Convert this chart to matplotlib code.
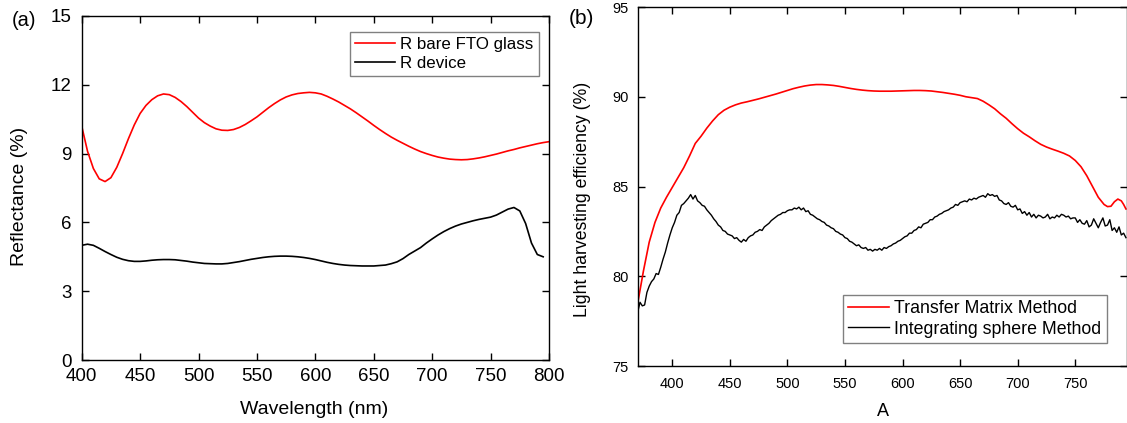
import numpy as np
import matplotlib
matplotlib.use("Agg")
import matplotlib.pyplot as plt

plt.rcParams['font.family'] = ['Liberation Sans', 'DejaVu Sans']

# (a) reflectance, 5 nm steps
wl_a = np.arange(400, 801, 5)
r_fto = [10.2, 9.1, 8.35, 7.9, 7.78, 7.95, 8.4, 9.0, 9.65, 10.25,
         10.75, 11.1, 11.35, 11.52, 11.6, 11.57, 11.45, 11.27, 11.05, 10.8,
         10.55, 10.35, 10.2, 10.08, 10.02, 10.01, 10.05, 10.14, 10.27, 10.43,
         10.6, 10.8, 11.0, 11.18, 11.34, 11.47, 11.56, 11.62, 11.65, 11.67,
         11.65, 11.6, 11.5, 11.38, 11.25, 11.1, 10.95, 10.78, 10.6, 10.42,
         10.23, 10.05, 9.88, 9.72, 9.58, 9.45, 9.32, 9.2, 9.09, 9.0,
         8.92, 8.85, 8.8, 8.76, 8.74, 8.73, 8.74, 8.77, 8.81, 8.86,
         8.92, 8.98, 9.05, 9.12, 9.18, 9.25, 9.31, 9.37, 9.43, 9.48,
         9.52]
wl_dev = np.arange(400, 796, 5)
r_dev = [5.0, 5.05, 5.0, 4.87, 4.73, 4.6, 4.48, 4.39, 4.33, 4.3,
         4.3, 4.32, 4.35, 4.37, 4.38, 4.38, 4.37, 4.34, 4.31, 4.27,
         4.24, 4.21, 4.2, 4.19, 4.19, 4.21, 4.25, 4.29, 4.34, 4.39,
         4.43, 4.47, 4.5, 4.52, 4.53, 4.53, 4.52, 4.5, 4.47, 4.43,
         4.38, 4.32, 4.26, 4.21, 4.17, 4.14, 4.12, 4.11, 4.1, 4.1,
         4.1, 4.12, 4.14, 4.2, 4.28, 4.42, 4.6, 4.75, 4.9, 5.1,
         5.28, 5.45, 5.6, 5.73, 5.84, 5.93, 6.0, 6.07, 6.13, 6.18,
         6.23, 6.32, 6.45, 6.58, 6.65, 6.5, 5.95, 5.1, 4.6, 4.5]

# (b) light harvesting efficiency
wl_tmm = [370, 375, 380, 385, 390, 395, 400, 405, 410, 415, 420, 425, 430,
          435, 440, 445, 450, 455, 460, 465, 470, 475, 480, 485, 490, 495,
          500, 505, 510, 515, 520, 525, 530, 535, 540, 545, 550, 555, 560,
          565, 570, 575, 580, 585, 590, 595, 600, 605, 610, 615, 620, 625,
          630, 635, 640, 645, 650, 655, 660, 665, 670, 675, 680, 685, 690,
          695, 700, 705, 710, 715, 720, 725, 730, 735, 740, 745, 750, 755,
          760, 765, 770, 775, 778, 781, 784, 787, 790, 792, 794]
lhe_tmm = [78.5, 80.3, 81.9, 83.0, 83.8, 84.4, 84.95, 85.5, 86.05, 86.7,
           87.4, 87.8, 88.25, 88.65, 89.0, 89.25, 89.42, 89.55, 89.65, 89.72,
           89.8, 89.88, 89.97, 90.06, 90.15, 90.25, 90.35, 90.45, 90.53, 90.6,
           90.65, 90.68, 90.68, 90.66, 90.63, 90.58, 90.52, 90.46, 90.41, 90.37,
           90.34, 90.32, 90.31, 90.31, 90.31, 90.32, 90.33, 90.34, 90.35, 90.35,
           90.34, 90.32, 90.28, 90.24, 90.19, 90.14, 90.08, 90.0, 89.95, 89.9,
           89.75, 89.55, 89.33, 89.05, 88.8, 88.5, 88.22, 87.97, 87.77, 87.55,
           87.35, 87.2, 87.08, 86.97, 86.85, 86.7, 86.45, 86.1, 85.6, 85.0,
           84.4, 84.0, 83.88, 83.9, 84.15, 84.3, 84.2, 84.0, 83.75]

wl_is = np.arange(370, 795, 2)
lhe_is = [78.00, 78.55, 78.35, 78.40, 79.10, 79.45, 79.70, 79.85, 80.15, 80.10,
          80.50, 80.95, 81.35, 81.85, 82.30, 82.70, 83.00, 83.40, 83.55, 83.95,
          84.05, 84.20, 84.35, 84.55, 84.30, 84.50, 84.20, 84.10, 83.95, 83.90,
          83.70, 83.55, 83.40, 83.20, 83.05, 82.85, 82.75, 82.55, 82.50, 82.35,
          82.30, 82.25, 82.10, 82.15, 82.00, 81.90, 82.05, 81.95, 82.15, 82.25,
          82.30, 82.45, 82.50, 82.60, 82.55, 82.75, 82.85, 82.95, 83.10, 83.20,
          83.30, 83.40, 83.45, 83.55, 83.55, 83.65, 83.70, 83.70, 83.80, 83.75,
          83.85, 83.70, 83.80, 83.60, 83.65, 83.45, 83.40, 83.30, 83.20, 83.15,
          83.05, 83.00, 82.85, 82.80, 82.70, 82.65, 82.50, 82.45, 82.35, 82.30,
          82.15, 82.10, 81.95, 81.90, 81.80, 81.70, 81.75, 81.60, 81.55, 81.60,
          81.45, 81.50, 81.40, 81.50, 81.45, 81.55, 81.45, 81.60, 81.55, 81.65,
          81.70, 81.80, 81.85, 81.95, 82.00, 82.10, 82.20, 82.25, 82.40, 82.40,
          82.55, 82.60, 82.75, 82.70, 82.90, 82.95, 83.00, 83.15, 83.15, 83.30,
          83.35, 83.45, 83.50, 83.60, 83.65, 83.70, 83.80, 83.85, 84.00, 83.95,
          84.10, 84.15, 84.20, 84.15, 84.30, 84.25, 84.35, 84.30, 84.40, 84.45,
          84.50, 84.40, 84.60, 84.50, 84.55, 84.45, 84.50, 84.25, 84.20, 84.05,
          84.00, 84.10, 83.90, 83.85, 83.95, 83.70, 83.75, 83.50, 83.60, 83.40,
          83.55, 83.30, 83.45, 83.25, 83.40, 83.35, 83.25, 83.30, 83.45, 83.20,
          83.30, 83.25, 83.40, 83.30, 83.45, 83.40, 83.30, 83.35, 83.20, 83.25,
          83.25, 83.00, 83.15, 82.95, 82.90, 83.10, 82.75, 82.85, 83.20, 82.95,
          82.70, 83.00, 83.25, 82.80, 82.85, 83.15, 82.55, 82.70, 82.45, 82.75,
          82.30, 82.40, 82.15]

W, H = 1127, 423
fig = plt.figure(figsize=(W / 100, H / 100), dpi=100)

def style(ax, size, padx, pady):
    ax.tick_params(direction='in', top=True, right=True, length=5, width=1,
                   labelsize=size)
    ax.tick_params(axis='x', pad=padx)
    ax.tick_params(axis='y', pad=pady)
    for s in ax.spines.values():
        s.set_linewidth(1)

# panel (a)
ax1 = fig.add_axes([81.7 / W, 1 - 360 / H, (549 - 81.7) / W, (360 - 16) / H])
ax1.plot(wl_a, r_fto, color='#ff0000', lw=1.2, label='R bare FTO glass')
ax1.plot(wl_dev, r_dev, color='black', lw=1.2, label='R device')
ax1.set_xlim(400, 800)
ax1.set_ylim(0, 15)
ax1.set_xticks(range(400, 801, 50))
ax1.set_yticks(range(0, 16, 3))
style(ax1, 13.5, 5.5, 7)
ax1.legend(loc='upper right', bbox_to_anchor=(538.7 / W, 1 - 32 / H),
           bbox_transform=fig.transFigure, fontsize=12.2, fancybox=False,
           edgecolor='#808080', framealpha=1, borderaxespad=0, borderpad=0.3,
           handlelength=2.4, handletextpad=0.3, labelspacing=0.25)

# panel (b)
ax2 = fig.add_axes([637.7 / W, 1 - 366 / H, (1126.5 - 637.7) / W, (366 - 7) / H])
ax2.plot(wl_tmm, lhe_tmm, color='#ff0000', lw=1.2, label='Transfer Matrix Method')
ax2.plot(wl_is, lhe_is, color='black', lw=1.0, label='Integrating sphere Method')
ax2.set_xlim(370, 794.5)
ax2.set_ylim(75, 95)
ax2.set_xticks(range(400, 751, 50))
ax2.set_yticks(range(75, 96, 5))
style(ax2, 10.5, 8, 6.5)
ax2.legend(loc='lower right', bbox_to_anchor=(1106.7 / W, 1 - 343 / H),
           bbox_transform=fig.transFigure, fontsize=12.8, fancybox=False,
           edgecolor='#808080', framealpha=1, borderaxespad=0, borderpad=0.3,
           handlelength=2.3, handletextpad=0.3, labelspacing=0.2)

# labels
fig.text(20 / W, 1 - 196 / H, 'Reflectance (%)', rotation=90, fontsize=14,
         ha='center', va='center')
fig.text(314 / W, 1 - 409 / H, 'Wavelength (nm)', fontsize=14,
         ha='center', va='center')
fig.text(582.5 / W, 1 - 199.5 / H, 'Light harvesting efficiency (%)',
         rotation=90, fontsize=12.7, ha='center', va='center')
fig.text(883 / W, 1 - 411 / H, 'A', fontsize=13, ha='center', va='center')
fig.text(24 / W, 1 - 20 / H, '(a)', fontsize=14.5, ha='center', va='center')
fig.text(581 / W, 1 - 19 / H, '(b)', fontsize=15, ha='center', va='center')

fig.savefig('out.png', dpi=100)
